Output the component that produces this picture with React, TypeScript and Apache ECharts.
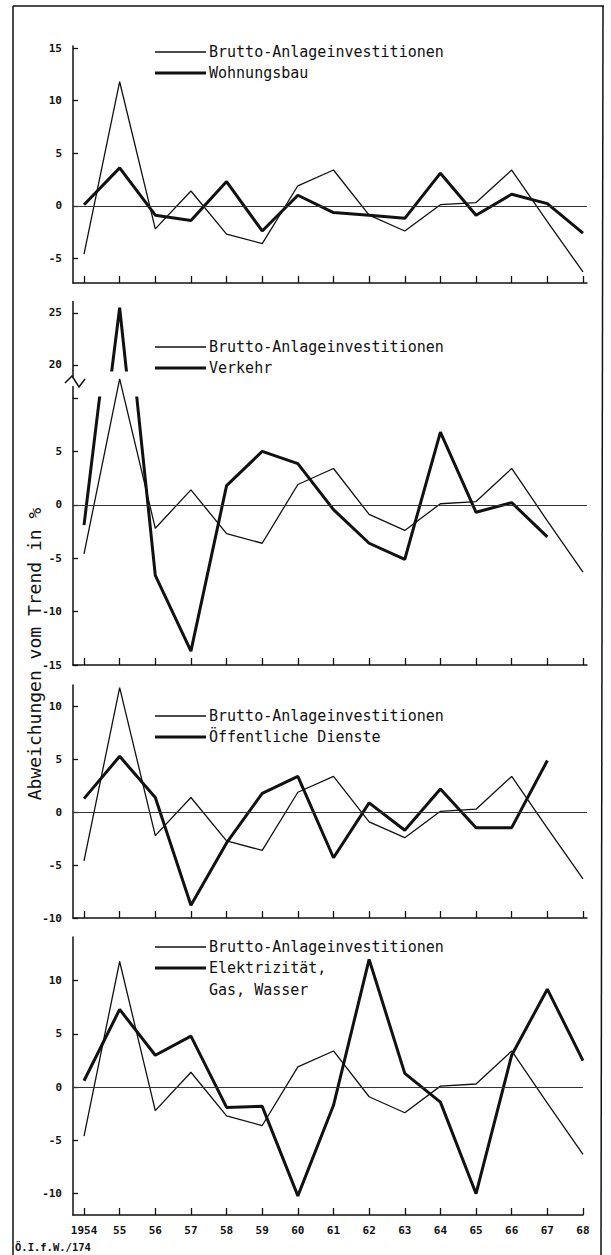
import React, { useEffect, useRef } from "react";
import * as echarts from "echarts";

// ---- data ----
const years = [1954, 1955, 1956, 1957, 1958, 1959, 1960, 1961, 1962, 1963, 1964, 1965, 1966, 1967, 1968];
const yearLabels = ["1954", "55", "56", "57", "58", "59", "60", "61", "62", "63", "64", "65", "66", "67", "68"];

const brutto = [-4.6, 11.8, -2.2, 1.4, -2.7, -3.6, 1.9, 3.4, -0.9, -2.4, 0.1, 0.3, 3.4, -1.5, -6.3];
const wohnungsbau = [0.1, 3.6, -0.9, -1.4, 2.3, -2.4, 1.0, -0.65, -0.9, -1.2, 3.1, -0.9, 1.1, 0.2, -2.6];
const verkehr = [-1.9, 25.5, -6.6, -13.7, 1.8, 5.0, 3.85, -0.45, -3.6, -5.1, 6.8, -0.7, 0.2, -3.0, null];
const oeffentliche = [1.3, 5.3, 1.4, -8.8, -2.9, 1.8, 3.4, -4.3, 0.9, -1.7, 2.2, -1.45, -1.45, 4.9, null];
const elektrizitaet = [0.6, 7.3, 3.0, 4.8, -1.9, -1.8, -10.2, -1.7, 12.0, 1.3, -1.4, -10.0, 3.0, 9.2, 2.5];

const ticksP1 = [-5, 0, 5, 10, 15];
const ticksP2Upper = [20, 25];
const ticksP2Lower = [-15, -10, -5, 0, 5, 10];
const labelsP2Lower = [-15, -10, -5, 0, 5];
const ticksP3 = [-10, -5, 0, 5, 10];
const ticksP4 = [-10, -5, 0, 5, 10];

const legendBrutto = "Brutto-Anlageinvestitionen";
const legendWohnungsbau = "Wohnungsbau";
const legendVerkehr = "Verkehr";
const legendOeffentliche = "Öffentliche Dienste";
const legendElektrizitaet1 = "Elektrizität,";
const legendElektrizitaet2 = "Gas, Wasser";
const yTitle = "Abweichungen vom Trend in %";
const footer = "Ö.I.f.W./174";

// ---- layout / style ----
const INK = "#111";
const MONO = '"DejaVu Sans Mono", monospace';
const X_MIN = 1953.691;
const LEFT = 73;
const STEP = 35.64;

const pairs = (arr: (number | null)[]) =>
  years.map((y, i) => [y, arr[i]]).filter((p) => p[1] !== null);

type Panel = {
  top: number;
  height: number;
  min: number;
  max: number;
  xmax: number;
  ticks: number[];
  labels: number[];
  xLabels: boolean;
};

const panels: Panel[] = [
  { top: 46, height: 237, min: -7.35, max: 15.2, xmax: 1968.112, ticks: ticksP1, labels: ticksP1, xLabels: false },
  { top: 301.5, height: 68.5, min: 19.5, max: 26.1, xmax: 1968.112, ticks: ticksP2Upper, labels: ticksP2Upper, xLabels: false },
  { top: 398, height: 267, min: -15, max: 10, xmax: 1968.112, ticks: ticksP2Lower, labels: labelsP2Lower, xLabels: false },
  { top: 685, height: 233, min: -10, max: 12.05, xmax: 1968.112, ticks: ticksP3, labels: ticksP3, xLabels: false },
  { top: 937, height: 278, min: -12, max: 14.1, xmax: 1968.0, ticks: ticksP4, labels: ticksP4, xLabels: true },
];

const axisLineStyle = { color: INK, width: 1.5 };

function buildOption() {
  const grid = panels.map((p) => ({
    left: LEFT,
    top: p.top,
    width: (p.xmax - X_MIN) * STEP,
    height: p.height,
    containLabel: false,
  }));

  const xAxis = panels.map((p, i) => ({
    type: "value",
    gridIndex: i,
    min: X_MIN,
    max: p.xmax,
    show: i !== 1,
    axisLine: { show: true, onZero: false, lineStyle: axisLineStyle },
    axisTick: {
      show: true,
      inside: true,
      length: 7,
      customValues: years,
      lineStyle: { color: INK, width: 1.3 },
    },
    axisLabel: {
      show: p.xLabels,
      customValues: years,
      formatter: (v: number) => yearLabels[years.indexOf(Math.round(v))] ?? "",
      fontFamily: MONO,
      fontWeight: "bold",
      fontSize: 11,
      color: INK,
      margin: 10,
    },
    splitLine: { show: false },
  }));

  const yAxis = panels.map((p, i) => ({
    type: "value",
    gridIndex: i,
    min: p.min,
    max: p.max,
    axisLine: { show: true, onZero: false, lineStyle: axisLineStyle },
    axisTick: {
      show: true,
      inside: true,
      length: 5,
      customValues: p.ticks,
      lineStyle: { color: INK, width: 1.3 },
    },
    axisLabel: {
      show: true,
      customValues: p.labels,
      formatter: (v: number) => String(v),
      fontFamily: MONO,
      fontWeight: "bold",
      fontSize: 11,
      color: INK,
      margin: 11,
    },
    splitLine: { show: false },
  }));

  const zeroLine = {
    silent: true,
    symbol: ["none", "none"],
    label: { show: false },
    lineStyle: { color: "#333", width: 1, type: "solid" },
    data: [{ yAxis: 0 }],
  };

  const thin = (data: (number | null)[], idx: number, clip = true, mark = true) => ({
    type: "line",
    name: legendBrutto,
    xAxisIndex: idx,
    yAxisIndex: idx,
    data: pairs(data),
    symbol: "none",
    clip,
    lineStyle: { color: INK, width: 1.3 },
    markLine: mark ? zeroLine : undefined,
    z: 3,
  });
  const thick = (name: string, data: (number | null)[], idx: number) => ({
    type: "line",
    name,
    xAxisIndex: idx,
    yAxisIndex: idx,
    data: pairs(data),
    symbol: "none",
    clip: true,
    lineStyle: { color: INK, width: 3 },
    z: 4,
  });

  const series = [
    thin(brutto, 0),
    thick(legendWohnungsbau, wohnungsbau, 0),
    thick(legendVerkehr, verkehr, 1),
    thin(brutto, 2, false),
    thick(legendVerkehr, verkehr, 2),
    thin(brutto, 3),
    thick(legendOeffentliche, oeffentliche, 3),
    thin(brutto, 4),
    thick(legendElektrizitaet1 + " " + legendElektrizitaet2, elektrizitaet, 4),
  ];

  const legendItem = (y: number, w: number, text: string) => [
    { type: "line", shape: { x1: 155, y1: y, x2: 206, y2: y }, style: { stroke: INK, lineWidth: w } },
    {
      type: "text",
      x: 209,
      y,
      style: { text, fontFamily: MONO, fontSize: 15, fill: INK, verticalAlign: "middle", align: "left" },
    },
  ];

  const graphic = [
    // frame
    { type: "line", shape: { x1: 13, y1: 6, x2: 604, y2: 6 }, style: { stroke: INK, lineWidth: 1.5 } },
    { type: "line", shape: { x1: 13, y1: 6, x2: 13, y2: 1255 }, style: { stroke: INK, lineWidth: 1.5 } },
    { type: "line", shape: { x1: 603, y1: 6, x2: 601, y2: 1255 }, style: { stroke: INK, lineWidth: 1.5 } },
    // axis break in panel 2
    { type: "line", shape: { x1: LEFT, y1: 370, x2: LEFT, y2: 377 }, style: { stroke: INK, lineWidth: 1.5 } },
    { type: "line", shape: { x1: LEFT, y1: 386, x2: LEFT, y2: 398 }, style: { stroke: INK, lineWidth: 1.5 } },
    {
      type: "polyline",
      shape: { points: [[65, 383], [72, 376], [79, 387], [85, 379]] },
      style: { stroke: INK, lineWidth: 1.5, fill: "none" },
    },
    ...legendItem(52, 1.3, legendBrutto),
    ...legendItem(73, 3, legendWohnungsbau),
    ...legendItem(347, 1.3, legendBrutto),
    ...legendItem(368, 3, legendVerkehr),
    ...legendItem(716, 1.3, legendBrutto),
    ...legendItem(737, 3, legendOeffentliche),
    ...legendItem(947, 1.3, legendBrutto),
    ...legendItem(968, 3, legendElektrizitaet1),
    {
      type: "text",
      x: 209,
      y: 990,
      style: { text: legendElektrizitaet2, fontFamily: MONO, fontSize: 15, fill: INK, verticalAlign: "middle", align: "left" },
    },
    {
      type: "text",
      x: 34,
      y: 654,
      rotation: Math.PI / 2,
      style: { text: yTitle, fontFamily: MONO, fontSize: 18, fill: INK, verticalAlign: "middle", align: "center" },
    },
    {
      type: "text",
      x: 15,
      y: 1247,
      style: { text: footer, fontFamily: MONO, fontSize: 10.5, fontWeight: "bold", fill: INK, verticalAlign: "middle", align: "left" },
    },
  ];

  return {
    animation: false,
    backgroundColor: "#fff",
    grid,
    xAxis,
    yAxis,
    series,
    graphic,
  };
}

export default function App() {
  const ref = useRef<HTMLDivElement>(null);
  useEffect(() => {
    document.body.style.margin = "0";
    if (!ref.current) return;
    const chart = echarts.init(ref.current, null, { renderer: "svg" });
    chart.setOption(buildOption() as any);
    return () => chart.dispose();
  }, []);
  return <div ref={ref} style={{ width: 611, height: 1255, position: "absolute", left: 0, top: 0 }} />;
}
